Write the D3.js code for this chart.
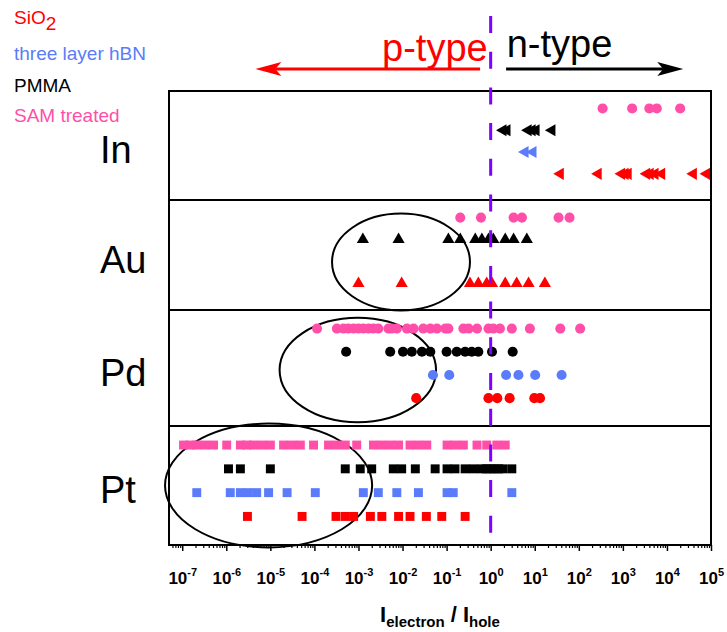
<!DOCTYPE html>
<html>
<head>
<meta charset="utf-8">
<script src="https://cdn.jsdelivr.net/npm/d3@7"></script>
<style>
  body { margin: 0; background: #fff; }
  svg { display: block; font-family: "Liberation Sans", Arial, sans-serif; }
</style>
</head>
<body>
<div id="chart"></div>
<script>
// panels (metal contacts) and substrate rows inside each panel, top to bottom
const panels = ["In", "Au", "Pd", "Pt"];
const rows = ["SAM treated", "PMMA", "three layer hBN", "SiO2"];
const legendItems = ["SiO2", "three layer hBN", "PMMA", "SAM treated"];

// log10(I_electron / I_hole)
const inSam = [2.54, 3.21, 3.60, 3.77, 4.30];
const inPmma = [0.28, 0.37, 0.85, 0.94, 1.03, 1.39];
const inHbn = [0.78, 0.96];
const inSio2 = [1.58, 2.44, 2.97, 3.05, 3.12, 3.54, 3.62, 3.73, 3.88, 4.60, 4.90];

const auSam = [-0.69, -0.22, 0.52, 0.71, 1.54, 1.79];
const auPmma = [-2.90, -2.09, -0.96, -0.69, -0.35, -0.20, -0.05, 0.06, 0.33, 0.52, 0.82];
const auSio2 = [-3.00, -2.02, -0.47, -0.28, -0.09, 0.03, 0.33, 0.59, 0.86, 1.23];

const pdSam = [-3.94, -3.49, -3.34, -3.23, -3.11, -3.00, -2.89, -2.77, -2.66, -2.55, -2.32, -2.24,
  -2.13, -1.90, -1.75, -1.53, -1.37, -1.22, -1.03, -0.96, -0.62, -0.50, -0.31, -0.05, 0.06, 0.21,
  0.48, 0.89, 1.58, 2.03];
const pdPmma = [-3.28, -2.28, -1.99, -1.79, -1.56, -1.37, -1.00, -0.77, -0.58, -0.43, -0.28, 0.03, 0.50];
const pdHbn = [-1.31, -0.94, 0.35, 0.63, 1.01, 1.61];
const pdSio2 = [-1.69, -0.05, 0.15, 0.43, 0.99, 1.12];

const ptSam = [-6.97, -6.82, -6.67, -6.48, -6.29, -5.99, -5.68, -5.53, -5.38, -5.19, -5.00, -4.70,
  -4.51, -4.32, -4.02, -3.68, -3.49, -3.30, -3.04, -2.66, -2.47, -2.28, -2.09, -1.83, -1.64, -1.45,
  -0.99, -0.81, -0.62, -0.31, -0.09, 0.14, 0.33];
const ptPmma = [-5.95, -5.68, -5.00, -3.30, -2.96, -2.70, -2.21, -2.02, -1.71, -1.26, -0.99, -0.81,
  -0.58, -0.39, -0.20, -0.10, -0.01, 0.08, 0.18, 0.28, 0.48];
const ptHbn = [-6.67, -5.91, -5.68, -5.50, -5.31, -5.04, -4.62, -3.98, -2.89, -2.55, -2.13, -1.64,
  -0.99, -0.85, 0.48];
const ptSio2 = [-5.52, -4.28, -3.51, -3.30, -3.11, -2.73, -2.47, -2.09, -1.83, -1.46, -1.11, -0.58];

const series = [
  {panel: "In", row: "SAM treated", shape: "circle", values: inSam},
  {panel: "In", row: "PMMA", shape: "left", values: inPmma},
  {panel: "In", row: "three layer hBN", shape: "left", values: inHbn},
  {panel: "In", row: "SiO2", shape: "left", values: inSio2},
  {panel: "Au", row: "SAM treated", shape: "circle", values: auSam},
  {panel: "Au", row: "PMMA", shape: "up", values: auPmma},
  {panel: "Au", row: "SiO2", shape: "up", values: auSio2},
  {panel: "Pd", row: "SAM treated", shape: "circle", values: pdSam},
  {panel: "Pd", row: "PMMA", shape: "circle", values: pdPmma},
  {panel: "Pd", row: "three layer hBN", shape: "circle", values: pdHbn},
  {panel: "Pd", row: "SiO2", shape: "circle", values: pdSio2},
  {panel: "Pt", row: "SAM treated", shape: "square", values: ptSam},
  {panel: "Pt", row: "PMMA", shape: "square", values: ptPmma},
  {panel: "Pt", row: "three layer hBN", shape: "square", values: ptHbn},
  {panel: "Pt", row: "SiO2", shape: "square", values: ptSio2}
];

// circled regions (log10 extent)
const ellipses = [
  {panel: "Au", from: -3.60, to: -0.47},
  {panel: "Pd", from: -4.79, to: -1.24},
  {panel: "Pt", from: -7.39, to: -2.69}
];

const majorExps = [-7, -6, -5, -4, -3, -2, -1, 0, 1, 2, 3, 4, 5];

const colors = {
  "SiO2": "#ff0000",
  "three layer hBN": "#5b7cfa",
  "PMMA": "#000000",
  "SAM treated": "#ff4fa8"
};

const width = 727, height = 632;
const svg = d3.select("#chart").append("svg")
  .attr("width", width)
  .attr("height", height);

// scales
const x = d3.scaleLog()
  .domain([Math.pow(10, -7.3), 1e5])
  .range([169, 711]);

// panel edges (panel index -> pixel), panels are not quite equal in height
const yEdge = d3.scaleLinear()
  .domain([0, 1, 2, 3, 4])
  .range([91, 200, 310, 426, 545]);
const panelTop = p => yEdge(panels.indexOf(p));
const panelH = p => yEdge(panels.indexOf(p) + 1) - yEdge(panels.indexOf(p));

const yRow = d3.scalePoint()
  .domain(rows)
  .range([0.16, 0.76]);
const rowY = (p, r) => panelTop(p) + yRow(r) * panelH(p);

// ellipses under the markers
const ellipseShape = {Au: {dy: 7, ry: 0.44}, Pd: {dy: 2, ry: 0.45}, Pt: {dy: 0, ry: 0.52}};
svg.append("g")
  .selectAll("ellipse")
  .data(ellipses)
  .join("ellipse")
  .attr("cx", d => (x(10 ** d.from) + x(10 ** d.to)) / 2)
  .attr("cy", d => panelTop(d.panel) + panelH(d.panel) / 2 + ellipseShape[d.panel].dy)
  .attr("rx", d => (x(10 ** d.to) - x(10 ** d.from)) / 2)
  .attr("ry", d => panelH(d.panel) * ellipseShape[d.panel].ry)
  .attr("fill", "none")
  .attr("stroke", "#000")
  .attr("stroke-width", 2);

// markers
const symbols = {
  circle: d3.symbol().type(d3.symbolCircle).size(80)(),
  square: d3.symbol().type(d3.symbolSquare).size(80)(),
  up: d3.symbol().type(d3.symbolTriangle).size(64)(),
  left: d3.symbol().type(d3.symbolTriangle).size(64)()
};

const points = series.flatMap(s => s.values.map(v => ({...s, value: v})));

svg.append("g")
  .selectAll("path")
  .data(points)
  .join("path")
  .attr("d", d => symbols[d.shape])
  .attr("transform", d => {
    const px = x(10 ** d.value);
    const py = rowY(d.panel, d.row);
    return `translate(${px},${py})` + (d.shape === "left" ? " rotate(-90)" : "");
  })
  .attr("fill", d => colors[d.row]);

// frame and panel dividers
svg.append("rect")
  .attr("x", 169)
  .attr("y", yEdge(0))
  .attr("width", 542)
  .attr("height", yEdge(4) - yEdge(0))
  .attr("fill", "none")
  .attr("stroke", "#000")
  .attr("stroke-width", 2);

svg.append("g")
  .selectAll("line")
  .data([1, 2, 3])
  .join("line")
  .attr("x1", 169)
  .attr("x2", 711)
  .attr("y1", d => yEdge(d))
  .attr("y2", d => yEdge(d))
  .attr("stroke", "#000")
  .attr("stroke-width", 2);

// panel labels
svg.append("g")
  .selectAll("text")
  .data(panels)
  .join("text")
  .attr("x", 100)
  .attr("y", d => panelTop(d) + panelH(d) / 2 + 4)
  .attr("dy", "0.36em")
  .style("font-size", "38px")
  .text(d => d);

// x axis: major ticks with labels, minor ticks without
const axisG = svg.append("g").attr("transform", `translate(0,${yEdge(4)})`);

const minorValues = [];
for (let e = -8; e <= 4; e++) {
  for (let k = 2; k <= 9; k++) {
    const v = k * 10 ** e;
    if (v >= x.domain()[0] && v <= x.domain()[1]) minorValues.push(v);
  }
}

axisG.append("g")
  .call(d3.axisBottom(x).tickValues(minorValues).tickSize(3).tickFormat(""))
  .call(g => g.select(".domain").remove())
  .selectAll("line").attr("stroke-width", 1.2);

const major = axisG.append("g")
  .call(d3.axisBottom(x).tickValues(majorExps.map(e => 10 ** e)).tickSize(6).tickFormat(""))
  .call(g => g.select(".domain").remove());
major.selectAll("line").attr("stroke-width", 1.5);

major.selectAll(".tick text").remove();
major.selectAll(".tick")
  .append("text")
  .attr("y", 39)
  .attr("fill", "#000")
  .attr("text-anchor", "middle")
  .style("font-family", "\"Liberation Sans\", Arial, sans-serif")
  .style("font-weight", "bold")
  .each(function(d) {
    const t = d3.select(this);
    t.append("tspan").style("font-size", "17px").text("10");
    t.append("tspan").style("font-size", "11px").attr("dy", -8)
      .text(Math.round(Math.log10(d)));
  });

// axis title
const title = svg.append("text")
  .attr("x", 440)
  .attr("y", 622)
  .attr("text-anchor", "middle")
  .style("font-weight", "bold");
title.append("tspan").style("font-size", "22px").text("I");
title.append("tspan").style("font-size", "15px").attr("dy", 5).text("electron");
title.append("tspan").style("font-size", "22px").attr("dy", -5).text(" / I");
title.append("tspan").style("font-size", "15px").attr("dy", 5).text("hole");

// legend (colored text)
const legendY = [24, 60, 92, 122];
const legend = svg.append("g")
  .selectAll("text")
  .data(legendItems)
  .join("text")
  .attr("x", 14)
  .attr("y", (d, i) => legendY[i])
  .attr("fill", d => colors[d])
  .style("font-size", "19px");
legend.each(function(d) {
  const t = d3.select(this);
  if (d === "SiO2") {
    t.append("tspan").text("SiO");
    t.append("tspan").attr("dy", 6).text("2");
  } else {
    t.text(d);
  }
});

// p-type / n-type arrows
const arrowY = 69;
const arrows = [
  {from: -0.24, to: -5.34, color: "#ff0000"},
  {from: 0.35, to: 4.37, color: "#000000"}
];
arrows.forEach(a => {
  const x0 = x(10 ** a.from), x1 = x(10 ** a.to);
  const dir = Math.sign(x1 - x0);
  svg.append("line")
    .attr("x1", x0).attr("x2", x1 - dir * 20)
    .attr("y1", arrowY).attr("y2", arrowY)
    .attr("stroke", a.color)
    .attr("stroke-width", 3);
  svg.append("path")
    .attr("d", `M${x1},${arrowY} L${x1 - dir * 26},${arrowY - 7} L${x1 - dir * 20},${arrowY} L${x1 - dir * 26},${arrowY + 7} Z`)
    .attr("fill", a.color);
});

svg.append("text")
  .attr("x", x(1) - 3)
  .attr("y", 61)
  .attr("text-anchor", "end")
  .attr("fill", "#ff0000")
  .style("font-size", "38px")
  .text("p-type");

svg.append("text")
  .attr("x", x(1) + 16)
  .attr("y", 57)
  .attr("fill", "#000")
  .style("font-size", "38px")
  .text("n-type");

// dashed divider at ratio = 1
svg.append("line")
  .attr("x1", x(1)).attr("x2", x(1))
  .attr("y1", 16).attr("y2", yEdge(4))
  .attr("stroke", "#8000ff")
  .attr("stroke-width", 3)
  .attr("stroke-dasharray", "17,18.7");
</script>
</body>
</html>
